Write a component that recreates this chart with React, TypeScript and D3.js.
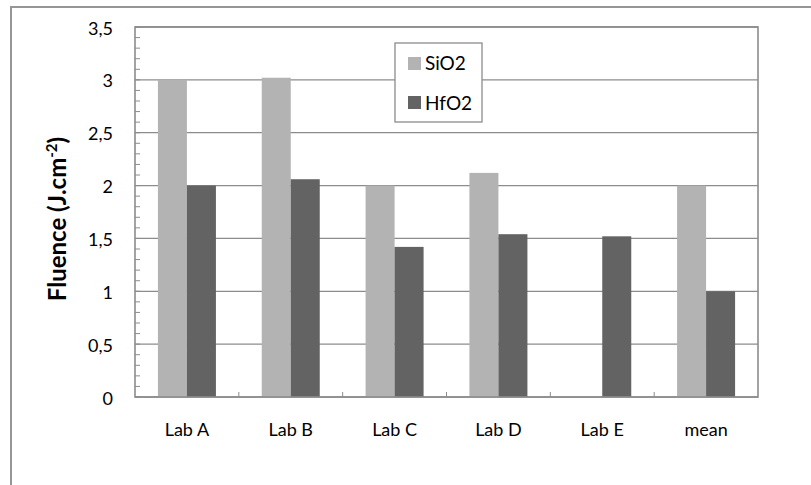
import React, { useEffect, useRef } from 'react';
import * as d3 from 'd3';

const categories = ['Lab A', 'Lab B', 'Lab C', 'Lab D', 'Lab E', 'mean'];
const sio2 = [3.0, 3.02, 2.0, 2.12, null, 2.0];
const hfo2 = [2.0, 2.06, 1.42, 1.54, 1.52, 1.0];
const seriesNames = ['SiO2', 'HfO2'];
const seriesColors = ['#b3b3b3', '#636363'];
const yTicks = [0, 0.5, 1, 1.5, 2, 2.5, 3, 3.5];

const W = 811;
const H = 485;
const FONT = 'Lato, "Liberation Sans", sans-serif';

const App: React.FC = () => {
  const svgRef = useRef<SVGSVGElement>(null);

  useEffect(() => {
    if (!svgRef.current) return;
    const svg = d3.select(svgRef.current);
    svg.selectAll('*').remove();

    const plot = { left: 135, right: 758, top: 27, bottom: 397 };
    const grid = '#8c8c8c';

    // outer chart frame, cut by the page edge on the right and bottom
    svg.append('rect')
      .attr('x', 10).attr('y', 6)
      .attr('width', W).attr('height', 2)
      .attr('fill', '#969696');
    svg.append('rect')
      .attr('x', 10).attr('y', 6)
      .attr('width', 2).attr('height', H)
      .attr('fill', '#969696');

    const x = d3.scaleBand<string>()
      .domain(categories)
      .range([plot.left, plot.right])
      .padding(0);

    const y = d3.scaleLinear()
      .domain([0, 3.5])
      .range([plot.bottom, plot.top]);

    const barW = x.bandwidth() / 3.58;

    // gridlines
    svg.append('g')
      .selectAll('line')
      .data(yTicks)
      .enter()
      .append('line')
      .attr('x1', plot.left).attr('x2', plot.right)
      .attr('y1', d => y(d)).attr('y2', d => y(d))
      .attr('stroke', grid)
      .attr('stroke-width', 1.3);

    // minor ticks on y axis
    const minor = d3.range(0, 3.5001, 0.1);
    svg.append('g')
      .selectAll('line')
      .data(minor)
      .enter()
      .append('line')
      .attr('x1', plot.left).attr('x2', plot.left + 5)
      .attr('y1', d => y(d)).attr('y2', d => y(d))
      .attr('stroke', grid)
      .attr('stroke-width', 1);

    // bars
    const series = [sio2, hfo2];
    series.forEach((vals, si) => {
      svg.append('g')
        .selectAll('rect')
        .data(categories.map((c, i) => ({ c, v: vals[i] })).filter(d => d.v != null))
        .enter()
        .append('rect')
        .attr('x', d => (x(d.c) as number) + x.bandwidth() / 2 - barW + si * barW)
        .attr('y', d => y(d.v as number))
        .attr('width', barW)
        .attr('height', d => plot.bottom - y(d.v as number))
        .attr('fill', seriesColors[si]);
    });

    // category ticks on x axis
    svg.append('g')
      .selectAll('line')
      .data(categories.slice(1))
      .enter()
      .append('line')
      .attr('x1', d => x(d) as number).attr('x2', d => x(d) as number)
      .attr('y1', plot.bottom).attr('y2', plot.bottom - 5)
      .attr('stroke', grid)
      .attr('stroke-width', 1);

    // plot border
    svg.append('rect')
      .attr('x', plot.left).attr('y', plot.top)
      .attr('width', plot.right - plot.left)
      .attr('height', plot.bottom - plot.top)
      .attr('fill', 'none')
      .attr('stroke', grid)
      .attr('stroke-width', 1.6);

    // y tick labels
    svg.append('g')
      .selectAll('text')
      .data(yTicks)
      .enter()
      .append('text')
      .attr('x', 113)
      .attr('y', d => y(d) + 7.5)
      .attr('text-anchor', 'end')
      .attr('font-family', FONT)
      .attr('font-size', 18)
      .attr('fill', '#000')
      .text(d => String(d).replace('.', ','));

    // x labels
    svg.append('g')
      .selectAll('text')
      .data(categories)
      .enter()
      .append('text')
      .attr('x', d => (x(d) as number) + x.bandwidth() / 2)
      .attr('y', 436)
      .attr('text-anchor', 'middle')
      .attr('font-family', FONT)
      .attr('font-size', 18)
      .attr('fill', '#000')
      .text(d => d);

    // y axis title
    const title = svg.append('text')
      .attr('transform', `translate(66,219) rotate(-90)`)
      .attr('text-anchor', 'middle')
      .attr('font-family', FONT)
      .attr('font-size', 24)
      .attr('font-weight', 'bold')
      .attr('fill', '#000');
    title.append('tspan').text('Fluence (J.cm');
    title.append('tspan').attr('font-size', 15).attr('dy', -9).text('-2');
    title.append('tspan').attr('dy', 9).text(')');

    // legend
    const lg = svg.append('g').attr('transform', 'translate(395,43)');
    lg.append('rect')
      .attr('width', 87).attr('height', 79)
      .attr('fill', '#fff')
      .attr('stroke', grid)
      .attr('stroke-width', 1.3);
    seriesNames.forEach((name, i) => {
      lg.append('rect')
        .attr('x', 13).attr('y', 14 + i * 39)
        .attr('width', 13).attr('height', 13)
        .attr('fill', seriesColors[i]);
      lg.append('text')
        .attr('x', 30).attr('y', 27 + i * 40)
        .attr('font-family', FONT)
        .attr('font-size', 19)
        .attr('fill', '#000')
        .text(name);
    });
  }, []);

  return (
    <>
      <style>{'html,body{margin:0;padding:0;overflow:hidden;background:#fff}'}</style>
      <div style={{ width: W, height: H, overflow: 'hidden', background: '#fff' }}>
        <svg ref={svgRef} width={W} height={H} style={{ display: 'block' }} />
      </div>
    </>
  );
};

export default App;
